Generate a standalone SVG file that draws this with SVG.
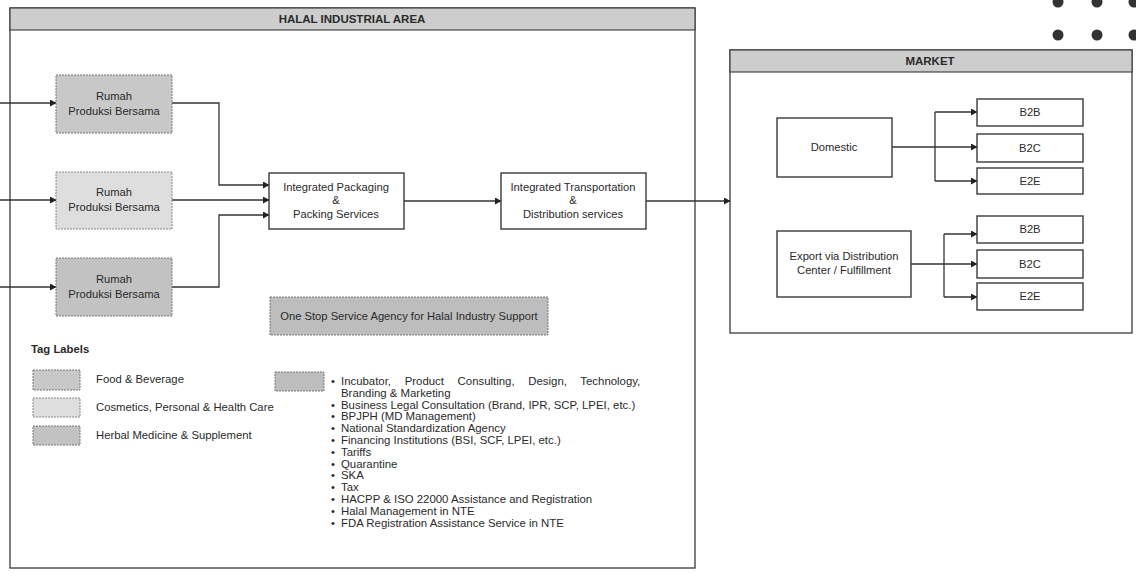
<svg xmlns="http://www.w3.org/2000/svg" width="1136" height="573" viewBox="0 0 1136 573">
<style>
text{font-family:"Liberation Sans",Arial,sans-serif;fill:#2a2a2a;}
.t{font-size:11.2px;text-anchor:middle;}
.s{font-size:11.4px;}
.l{font-size:11.3px;}
.h{font-size:11.5px;font-weight:bold;text-anchor:middle;}
.box{fill:#fff;stroke:#3a3a3a;stroke-width:1.4;}
.frame{fill:#fff;stroke:#3a3a3a;stroke-width:1.3;}
.hdr{fill:#cdcdcd;stroke:#3a3a3a;stroke-width:1.1;}
.food{fill:#c8c8c8;stroke:#777;stroke-width:1;stroke-dasharray:2 1;}
.cos{fill:#dedede;stroke:#888;stroke-width:1;stroke-dasharray:2 1;}
.herb{fill:#c2c2c2;stroke:#777;stroke-width:1;stroke-dasharray:2 1;}
.oss{fill:#bdbdbd;stroke:#777;stroke-width:1;stroke-dasharray:2 1;}
.c{fill:none;stroke:#333;stroke-width:1.3;}
.ca{fill:none;stroke:#333;stroke-width:1.3;marker-end:url(#ah);}
</style>
<defs>
<marker id="ah" markerWidth="7" markerHeight="7" refX="6" refY="3.5" orient="auto" markerUnits="userSpaceOnUse">
<path d="M0,0 L6.5,3.5 L0,7 Z" fill="#222"/>
</marker>
</defs>
<rect width="1136" height="573" fill="#fff"/>

<g id="decor" fill="#333">
<circle cx="1058" cy="2" r="5.5"/><circle cx="1097" cy="2" r="5.5"/><circle cx="1134" cy="2" r="5.5"/>
<circle cx="1058" cy="35" r="5.5"/><circle cx="1097" cy="35" r="5.5"/><circle cx="1134" cy="35" r="5.5"/>
</g>

<g id="halal-area">
<rect class="frame" x="10" y="8" width="685" height="560"/>
<rect class="hdr" x="10" y="8" width="685" height="22"/>
<text class="h" x="352" y="23">HALAL INDUSTRIAL AREA</text>
</g>

<g id="market">
<rect class="frame" x="730" y="50" width="402" height="283"/>
<rect class="hdr" x="730" y="50" width="402" height="22"/>
<text class="h" x="930" y="65" font-size="11px">MARKET</text>
</g>

<g id="connectors">
<path class="ca" d="M0,103 H56"/>
<path class="ca" d="M0,200 H56"/>
<path class="ca" d="M0,287 H56"/>
<path class="ca" d="M172,103 H219 V185 H269"/>
<path class="ca" d="M172,200 H269"/>
<path class="ca" d="M172,287 H219 V215 H269"/>
<path class="ca" d="M404,201 H501"/>
<path class="ca" d="M646,201 H730"/>
<path class="c" d="M892,147 H935"/>
<path class="c" d="M935,112 V181"/>
<path class="ca" d="M935,112 H977"/>
<path class="ca" d="M935,147 H977"/>
<path class="ca" d="M935,181 H977"/>
<path class="c" d="M911,264 H944"/>
<path class="c" d="M944,234 V297"/>
<path class="ca" d="M944,234 H977"/>
<path class="ca" d="M944,264 H977"/>
<path class="ca" d="M944,297 H977"/>
</g>

<g id="rumah1">
<rect class="food" x="56" y="75" width="116" height="58"/>
<text class="t" x="114" y="100">Rumah</text>
<text class="t" x="114" y="115">Produksi Bersama</text>
</g>
<g id="rumah2">
<rect class="cos" x="56" y="172" width="116" height="57"/>
<text class="t" x="114" y="196">Rumah</text>
<text class="t" x="114" y="211">Produksi Bersama</text>
</g>
<g id="rumah3">
<rect class="herb" x="56" y="258" width="116" height="58"/>
<text class="t" x="114" y="283">Rumah</text>
<text class="t" x="114" y="298">Produksi Bersama</text>
</g>

<g id="packaging">
<rect class="box" x="269" y="173" width="135" height="56"/>
<text class="t" x="336" y="191">Integrated Packaging</text>
<text class="t" x="336" y="204">&amp;</text>
<text class="t" x="336" y="218">Packing Services</text>
</g>

<g id="transport">
<rect class="box" x="501" y="173" width="145" height="56"/>
<text class="t" x="573" y="191">Integrated Transportation</text>
<text class="t" x="573" y="204">&amp;</text>
<text class="t" x="573" y="218">Distribution services</text>
</g>

<g id="one-stop">
<rect class="oss" x="270" y="297" width="278" height="38"/>
<text class="t" x="409" y="320" font-size="11.4px">One Stop Service Agency for Halal Industry Support</text>
</g>

<g id="domestic">
<rect class="box" x="777" y="118" width="115" height="59"/>
<text class="t" x="834" y="151">Domestic</text>
</g>
<g id="export">
<rect class="box" x="777" y="231" width="134" height="66"/>
<text class="t" x="844" y="260">Export via Distribution</text>
<text class="t" x="844" y="274">Center / Fulfillment</text>
</g>

<g id="dom-b2b"><rect class="box" x="977" y="99" width="106" height="27"/><text class="t" x="1030" y="116">B2B</text></g>
<g id="dom-b2c"><rect class="box" x="977" y="134" width="106" height="28"/><text class="t" x="1030" y="151.5">B2C</text></g>
<g id="dom-e2e"><rect class="box" x="977" y="168" width="106" height="26"/><text class="t" x="1030" y="184.5">E2E</text></g>
<g id="exp-b2b"><rect class="box" x="977" y="216" width="106" height="27"/><text class="t" x="1030" y="233">B2B</text></g>
<g id="exp-b2c"><rect class="box" x="977" y="250" width="106" height="28"/><text class="t" x="1030" y="267.5">B2C</text></g>
<g id="exp-e2e"><rect class="box" x="977" y="283" width="106" height="27"/><text class="t" x="1030" y="300">E2E</text></g>

<g id="legend">
<text class="l" x="31" y="353" font-size="10.8px" font-weight="bold">Tag Labels</text>
<rect class="food" x="33" y="370" width="47" height="20"/>
<text class="l" x="96" y="383">Food &amp; Beverage</text>
<rect class="cos" x="33" y="398" width="47" height="19"/>
<text class="l" x="96" y="411">Cosmetics, Personal &amp; Health Care</text>
<rect class="herb" x="33" y="426" width="47" height="19"/>
<text class="l" x="96" y="439">Herbal Medicine &amp; Supplement</text>
<rect class="oss" x="275" y="372" width="49" height="19"/>
</g>

<g id="services-list">
<text class="s" x="331" y="385">•</text>
<text class="s" x="341" y="385" word-spacing="10.5">Incubator, Product Consulting, Design, Technology,</text>
<text class="s" x="341" y="396.8">Branding &amp; Marketing</text>
<text class="s" x="331" y="408.6">•</text><text class="s" x="341" y="408.6">Business Legal Consultation (Brand, IPR, SCP, LPEI, etc.)</text>
<text class="s" x="331" y="420.4">•</text><text class="s" x="341" y="420.4">BPJPH (MD Management)</text>
<text class="s" x="331" y="432.2">•</text><text class="s" x="341" y="432.2">National Standardization Agency</text>
<text class="s" x="331" y="444">•</text><text class="s" x="341" y="444">Financing Institutions (BSI, SCF, LPEI, etc.)</text>
<text class="s" x="331" y="455.8">•</text><text class="s" x="341" y="455.8">Tariffs</text>
<text class="s" x="331" y="467.6">•</text><text class="s" x="341" y="467.6">Quarantine</text>
<text class="s" x="331" y="479.4">•</text><text class="s" x="341" y="479.4">SKA</text>
<text class="s" x="331" y="491.2">•</text><text class="s" x="341" y="491.2">Tax</text>
<text class="s" x="331" y="503">•</text><text class="s" x="341" y="503">HACPP &amp; ISO 22000 Assistance and Registration</text>
<text class="s" x="331" y="514.8">•</text><text class="s" x="341" y="514.8">Halal Management in NTE</text>
<text class="s" x="331" y="526.6">•</text><text class="s" x="341" y="526.6">FDA Registration Assistance Service in NTE</text>
</g>
</svg>
